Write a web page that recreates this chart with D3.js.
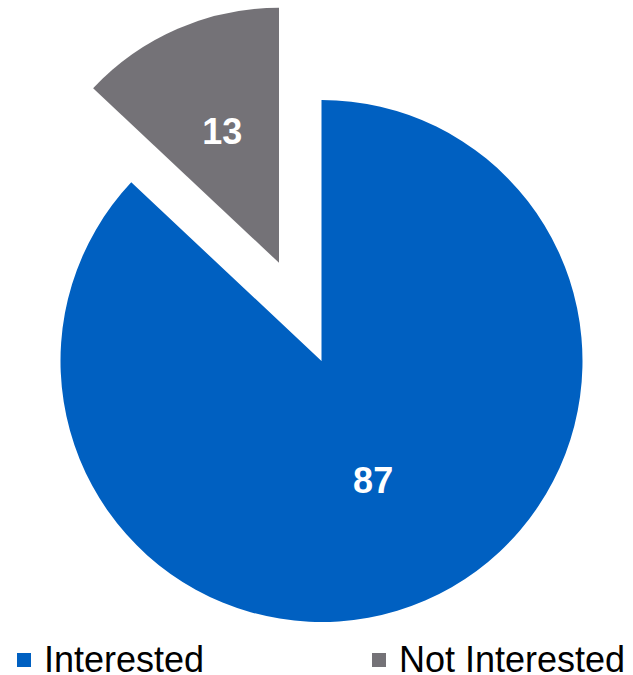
<!DOCTYPE html>
<html>
<head>
<meta charset="utf-8">
<script src="https://cdn.jsdelivr.net/npm/d3@7"></script>
<style>
  html, body { margin: 0; padding: 0; background: #fff; }
  svg { display: block; }
</style>
</head>
<body>
<svg id="chart" width="633" height="675"></svg>
<script>
// Survey answers
const categories = ["Interested", "Not Interested"];
const values = [87, 13];
const colors = ["#0060C1", "#747277"];
// How far each slice is pulled out from the centre
const explode = [0, 107];
const radii = [261, 255];

const svg = d3.select("#chart");
const cx = 321.5, cy = 361;

const pie = d3.pie().sort(null).value(d => d.value).startAngle(0).endAngle(2 * Math.PI);
const data = categories.map((c, i) => ({ name: c, value: values[i], color: colors[i], explode: explode[i], r: radii[i] }));
const arcs = pie(data);

const g = svg.append("g").attr("transform", `translate(${cx},${cy})`);

const offset = a => {
  const mid = (a.startAngle + a.endAngle) / 2;
  return [Math.sin(mid) * a.data.explode, -Math.cos(mid) * a.data.explode];
};

const slice = g.selectAll("g.slice").data(arcs).join("g")
  .attr("class", "slice")
  .attr("transform", a => { const [dx, dy] = offset(a); return `translate(${dx},${dy})`; });

slice.append("path")
  .attr("d", a => d3.arc().innerRadius(0).outerRadius(a.data.r)(a))
  .attr("fill", a => a.data.color);

// Value labels inside each slice
const labelRadius = [130, 143];
slice.append("text")
  .attr("transform", (a, i) => {
    const c = d3.arc().innerRadius(labelRadius[i]).outerRadius(labelRadius[i]).centroid(a);
    return `translate(${c[0]},${c[1]})`;
  })
  .attr("text-anchor", "middle")
  .attr("dominant-baseline", "central")
  .attr("font-family", "Liberation Sans, Arial, sans-serif")
  .attr("font-weight", "bold")
  .attr("font-size", 36)
  .attr("fill", "#fff")
  .text(a => a.data.value);

// Legend
const legendX = [17, 372];
const legend = svg.selectAll("g.legend").data(data).join("g")
  .attr("class", "legend")
  .attr("transform", (d, i) => `translate(${legendX[i]},653)`);

legend.append("rect")
  .attr("width", 14).attr("height", 14)
  .attr("fill", d => d.color);

legend.append("text")
  .attr("x", 27).attr("y", 18.5)
  .attr("font-family", "Liberation Sans, Arial, sans-serif")
  .attr("font-size", 36)
  .attr("fill", "#000")
  .text(d => d.name);
</script>
</body>
</html>
